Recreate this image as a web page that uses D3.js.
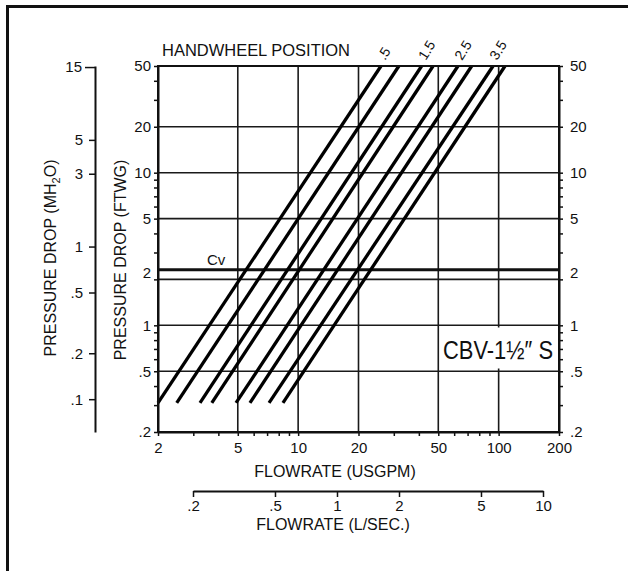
<!DOCTYPE html>
<html>
<head>
<meta charset="utf-8">
<script src="https://cdn.jsdelivr.net/npm/d3@7/dist/d3.min.js"></script>
<style>
  html, body { margin: 0; padding: 0; background: #fff; }
  svg { display: block; }
  text { font-family: "Liberation Sans", Arial, Helvetica, sans-serif; fill: #111; }
</style>
</head>
<body>
<svg id="chart" width="628" height="571"></svg>
<script>
// ---------------- data ----------------
const flowTickLabels = [2, 5, 10, 20, 50, 100, 200];          // USGPM labels
const ftTickLabels   = [50, 20, 10, 5, 2, 1, 0.5, 0.2];        // FTWG labels
const mTickLabels    = [15, 5, 3, 1, 0.5, 0.2, 0.1];           // MH2O labels
const lsTickLabels   = [0.2, 0.5, 1, 2, 5, 10];                // L/SEC labels
const gridFlow       = [5, 10, 20, 50, 100];
const gridFt         = [20, 10, 5, 2, 1, 0.5];
const lineLabels     = [".5", "", "1.5", "", "2.5", "", "3.5", ""];
const dpLow          = 0.31;   // ftwg at lower end of each line
const dpHigh         = 50;     // ftwg at upper end of each line
const flowAtLow      = [2.0, 2.48, 3.24, 3.71, 4.90, 5.75, 7.16, 8.4];
const flowAtHigh     = [25.9, 31.8, 41.3, 47.1, 62.7, 73.4, 93.8, 107.6];
const cvFt           = 2.31;   // 1 psi in ft of water
const ftPerM         = 3.281;

// ---------------- layout ----------------
const L = 158, R = 559, T = 66, B = 432;
const svg = d3.select("#chart");
svg.append("rect").attr("width", 628).attr("height", 571).attr("fill", "#fff");

const x  = d3.scaleLog().domain([2, 200]).range([L, R]);
const y  = d3.scaleLog().domain([0.2, 50]).range([B, T]);
const yM = d3.scaleLog().domain([0.2 / ftPerM, 50 / ftPerM]).range([B, T]);
const xL = d3.scaleLog().domain([0.2, 10]).range([193, 543]);

const fmt = d => (d < 1 ? String(d).replace(/^0/, "") : String(d));
const fmtIf = list => d => (list.includes(d) ? fmt(d) : "");

// frame
svg.append("line").attr("x1", 6).attr("x2", 628).attr("y1", 6.5).attr("y2", 6.5)
  .attr("stroke", "#111").attr("stroke-width", 3);
svg.append("line").attr("x1", 7.5).attr("x2", 7.5).attr("y1", 5).attr("y2", 571)
  .attr("stroke", "#111").attr("stroke-width", 3);

// grid
const grid = svg.append("g").attr("stroke", "#1a1a1a").attr("stroke-width", 1.6);
grid.selectAll(".gv").data(gridFlow).join("line")
  .attr("x1", d => x(d)).attr("x2", d => x(d)).attr("y1", T).attr("y2", B);
grid.selectAll(".gh").data(gridFt).join("line")
  .attr("x1", L).attr("x2", R).attr("y1", d => y(d)).attr("y2", d => y(d));

// Cv line
svg.append("line").attr("x1", L).attr("x2", R).attr("y1", y(cvFt)).attr("y2", y(cvFt))
  .attr("stroke", "#111").attr("stroke-width", 3);
svg.append("text").attr("x", 207).attr("y", 265).attr("font-size", 15).text("Cv");

// label box CBV
svg.append("rect").attr("x", 441).attr("y", 327.5).attr("width", 116).attr("height", 41)
  .attr("fill", "#fff");
svg.append("text").attr("x", 443).attr("y", 359).attr("font-size", 25)
  .attr("textLength", 110).attr("lengthAdjust", "spacingAndGlyphs")
  .text("CBV-1\u00BD\u2033 S");

// handwheel lines
const lines = flowAtLow.map((q, i) => [[q, dpLow], [flowAtHigh[i], dpHigh]]);
svg.append("g").selectAll("path").data(lines).join("path")
  .attr("d", d3.line().x(d => x(d[0])).y(d => y(d[1])))
  .attr("fill", "none").attr("stroke", "#000").attr("stroke-width", 3.3);

// handwheel labels
svg.append("g").selectAll("text").data(lineLabels.map((t, i) => ({ t, q: flowAtHigh[i] })).filter(d => d.t))
  .join("text")
  .attr("transform", d => `translate(${x(d.q) + 4},61) rotate(-58)`)
  .attr("font-size", 14).text(d => d.t);
svg.append("text").attr("x", 162).attr("y", 56).attr("font-size", 16)
  .attr("textLength", 188).attr("lengthAdjust", "spacingAndGlyphs")
  .text("HANDWHEEL POSITION");

// plot border
svg.append("rect").attr("x", L).attr("y", T).attr("width", R - L).attr("height", B - T)
  .attr("fill", "none").attr("stroke", "#111").attr("stroke-width", 2);

function styleAxis(g, size) {
  g.selectAll("path.domain").attr("stroke", "#111").attr("stroke-width", 2);
  g.selectAll(".tick line").attr("stroke", "#111").attr("stroke-width", 1.5);
  g.selectAll(".tick text").attr("font-size", size)
    .attr("font-family", '"Liberation Sans", Arial, sans-serif').attr("fill", "#111");
}

// left FTWG axis
const gLeft = svg.append("g").attr("transform", `translate(${L},0)`)
  .call(d3.axisLeft(y).tickValues(y.ticks()).tickFormat(fmtIf(ftTickLabels))
    .tickSize(4).tickSizeOuter(0).tickPadding(3));
styleAxis(gLeft, 15);
// right FTWG axis
const gRight = svg.append("g").attr("transform", `translate(${R},0)`)
  .call(d3.axisRight(y).tickValues(y.ticks()).tickFormat(fmtIf(ftTickLabels))
    .tickSize(4).tickSizeOuter(0).tickPadding(7));
styleAxis(gRight, 15);
[gLeft, gRight].forEach(g => g.selectAll(".tick text").filter(d => d === 2).attr("dy", "-0.15em"));

// bottom USGPM axis
const gBottom = svg.append("g").attr("transform", `translate(0,${B})`)
  .call(d3.axisBottom(x).tickValues(x.ticks()).tickFormat(fmtIf(flowTickLabels))
    .tickSize(4).tickSizeOuter(0).tickPadding(6));
styleAxis(gBottom, 15);
svg.append("text").attr("x", 335).attr("y", 477).attr("text-anchor", "middle")
  .attr("font-size", 16).text("FLOWRATE (USGPM)");

// L/SEC axis
const gLs = svg.append("g").attr("transform", `translate(0,491)`)
  .call(d3.axisBottom(xL).tickValues(lsTickLabels).tickFormat(fmt)
    .tickSize(6).tickSizeOuter(0).tickPadding(3));
styleAxis(gLs, 15);
svg.append("text").attr("x", 333).attr("y", 530).attr("text-anchor", "middle")
  .attr("font-size", 16).text("FLOWRATE (L/SEC.)");

// MH2O axis
const gM = svg.append("g").attr("transform", `translate(95,0)`)
  .call(d3.axisLeft(yM).tickValues(mTickLabels).tickFormat(fmt)
    .tickSize(6).tickSizeOuter(0).tickPadding(6));
styleAxis(gM, 15);
gM.selectAll(".tick line").filter(d => d === 15).attr("x2", -10);
gM.selectAll(".tick text").filter(d => d === 15).attr("x", -13);

// axis titles
svg.append("text").attr("transform", "translate(56,258) rotate(-90)")
  .attr("text-anchor", "middle").attr("font-size", 16)
  .call(t => {
    t.append("tspan").text("PRESSURE DROP (MH");
    t.append("tspan").attr("font-size", 11).attr("dy", 4).text("2");
    t.append("tspan").attr("dy", -4).text("O)");
  });
svg.append("text").attr("transform", "translate(126,260) rotate(-90)")
  .attr("text-anchor", "middle").attr("font-size", 16)
  .text("PRESSURE DROP (FTWG)");
</script>
</body>
</html>
